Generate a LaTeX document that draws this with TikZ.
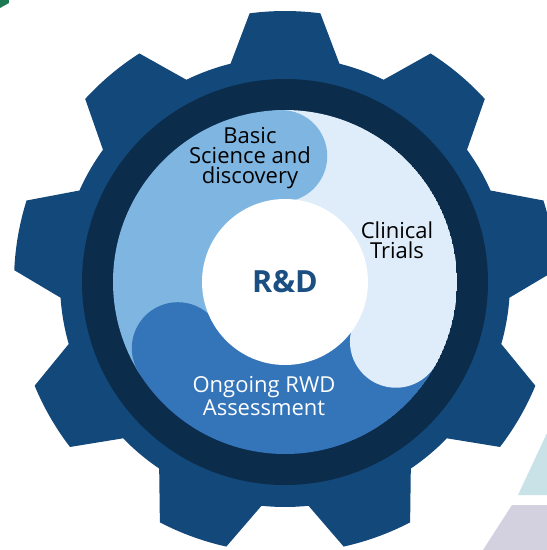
\documentclass[tikz,border=0pt]{standalone}
\usepackage{fontspec}
\setmainfont{Open Sans}

\definecolor{gearblue}{HTML}{13487A}
\definecolor{ringdark}{HTML}{0C2C4C}
\definecolor{basicblue}{HTML}{7FB6E1}
\definecolor{trialsblue}{HTML}{DEEDF9}
\definecolor{rwdblue}{HTML}{3474B9}
\definecolor{hubtext}{HTML}{1B4F82}
\definecolor{cornergreen}{HTML}{1B7A52}
\definecolor{cornerteal}{HTML}{C9E2E8}
\definecolor{cornerlilac}{HTML}{D3D1E0}

\begin{document}
\begin{tikzpicture}[x=1pt, y=1pt,
  label/.style={align=center, inner sep=0pt, anchor=base,
    font=\fontsize{22}{20}\selectfont},
  hub/.style={circle, fill=white, minimum size=166, inner sep=0pt,
    text=hubtext, font=\fontsize{30.5}{32}\selectfont\bfseries}]

\useasboundingbox (-285, -268) rectangle (262, 282);

% Corner pieces
\fill[cornergreen] (-285, 282) -- (-276, 282) -- (-276, 279) -- (-285, 274) -- cycle;
\fill[cornerteal] (262, -151) -- (262, -213) -- (233, -213) -- cycle;
\fill[cornerlilac] (227, -223) -- (262, -223) -- (262, -268) -- (198, -268) -- cycle;

% Gear with nine teeth
\fill[gearblue] (-16:225)
  \foreach \a in {10, 50, ..., 330} {
    arc[start angle=\a-26, end angle=\a-14, radius=225]
    -- (\a-7.5:271) arc[start angle=\a-7.5, end angle=\a+7.5, radius=271]
    -- (\a+14:225)
  } -- cycle;

% Rim
\fill[ringdark] (0, 0) circle (203);

% Phases
\begin{scope}
  \clip (0, 0) circle (172);
  \fill[basicblue] (0, 0) -- (91.7:172) arc[start angle=91.7, end angle=211.7, radius=172] -- cycle;
  \fill[trialsblue] (0, 0) -- (-28.3:172) arc[start angle=-28.3, end angle=91.7, radius=172] -- cycle;
  \fill[rwdblue] (0, 0) -- (211.7:172) arc[start angle=211.7, end angle=331.7, radius=172] -- cycle;
  % rounded ends
  \fill[basicblue] (91.7:126) circle (46);
  \fill[trialsblue] (-28.3:126) circle (46);
  \fill[rwdblue] (211.7:126) circle (46);
\end{scope}

% Hub
\node[hub] (rd) at (0, 0) {R\&D};

% Labels (anchored at the last line)
\node[label] (basic) at (-35, 99) {Basic\\Science and\\discovery};
\node[label] (trials) at (112, 24) {Clinical\\Trials};
\node[label, text=white] (rwd) at (-21, -133) {Ongoing RWD\\Assessment};

\end{tikzpicture}
\end{document}
